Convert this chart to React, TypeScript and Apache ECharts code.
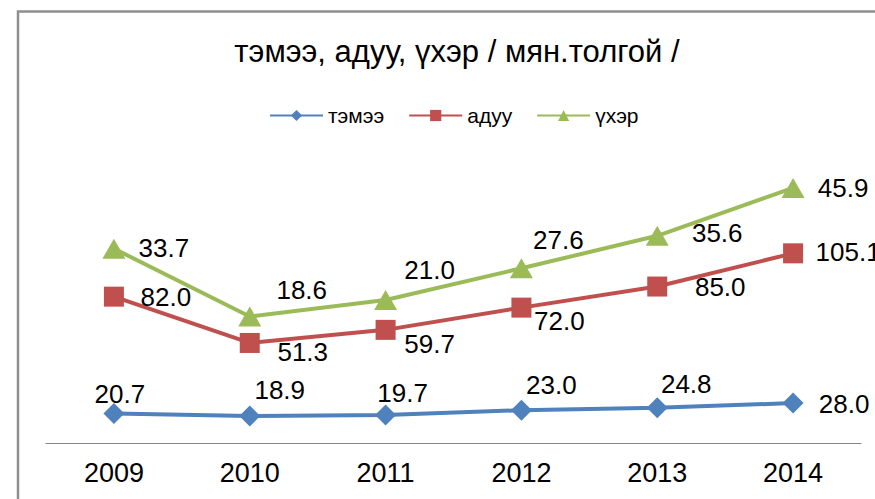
import React, { useEffect, useRef } from 'react';
import * as echarts from 'echarts';

const years = ['2009', '2010', '2011', '2012', '2013', '2014'];
const seriesNames = ['тэмээ', 'адуу', 'үхэр'];
const temee = [20.7, 18.9, 19.7, 23.0, 24.8, 28.0];
const aduu = [82.0, 51.3, 59.7, 72.0, 85.0, 105.1];
const ukher = [33.7, 18.6, 21.0, 27.6, 35.6, 45.9];
const titleText = 'тэмээ, адуу, үхэр / мян.толгой /';

// label placement (style only)
const temeeOffsets = [[6, -20], [30, -26], [17, -22], [30, -25], [29, -24], [51, 1]];
const aduuOffsets = [[52, 0], [53, 9], [44, 14], [38, 13], [63, 0], [55, -1]];
const ukherOffsets = [[50, -1], [52, -26], [44, -30], [37, -28], [60, -3], [50, 0]];

const FONT = '"Liberation Sans", Arial, sans-serif';

export default function App() {
  const ref = useRef<HTMLDivElement>(null);
  useEffect(() => {
    const chart = echarts.init(ref.current!, null, { renderer: 'svg' });
    const mk = (vals: number[], offs: number[][]) =>
      vals.map((v, i) => ({ value: v, label: { offset: offs[i] } }));
    const labelBase = {
      show: true,
      position: 'inside',
      formatter: (p: any) => Number(p.value).toFixed(1),
      fontSize: 26,
      color: '#000',
      fontFamily: FONT,
    };
    chart.setOption({
      animation: false,
      backgroundColor: '#fff',
      title: {
        text: titleText,
        left: 452,
        top: 31,
        textAlign: 'center',
        textStyle: { fontSize: 31, fontWeight: 'normal', color: '#000', fontFamily: FONT },
      },
      legend: {
        data: seriesNames,
        left: 264,
        top: 100,
        itemWidth: 53,
        itemHeight: 14,
        itemGap: 24,
        textStyle: { fontSize: 21, color: '#000', fontFamily: FONT },
      },
      graphic: [
        {
          type: 'rect',
          shape: { x: 18, y: 11.5, width: 950, height: 600 },
          style: { fill: 'none', stroke: '#8f8f8f', lineWidth: 2.5 },
          silent: true,
        },
      ],
      grid: { left: 46, right: 14, top: 158, bottom: 56 },
      xAxis: {
        type: 'category',
        data: years,
        boundaryGap: true,
        axisLine: { lineStyle: { color: '#868686', width: 1 } },
        axisTick: { show: false },
        axisLabel: { fontSize: 27, color: '#000', fontFamily: FONT, margin: 16 },
      },
      yAxis: { type: 'value', min: 0, max: 200, show: false, splitLine: { show: false } },
      series: [
        {
          name: seriesNames[0],
          type: 'line',
          stack: 'total',
          data: mk(temee, temeeOffsets),
          symbol: 'diamond',
          symbolSize: 21,
          lineStyle: { width: 4, color: '#4F81BD' },
          itemStyle: { color: '#4F81BD' },
          label: labelBase,
        },
        {
          name: seriesNames[1],
          type: 'line',
          stack: 'total',
          data: mk(aduu, aduuOffsets),
          symbol: 'rect',
          symbolSize: 20,
          lineStyle: { width: 4, color: '#C0504D' },
          itemStyle: { color: '#C0504D' },
          label: labelBase,
        },
        {
          name: seriesNames[2],
          type: 'line',
          stack: 'total',
          data: mk(ukher, ukherOffsets),
          symbol: 'triangle',
          symbolSize: [23, 20],
          lineStyle: { width: 4, color: '#9BBB59' },
          itemStyle: { color: '#9BBB59' },
          label: labelBase,
        },
      ],
    });
    return () => chart.dispose();
  }, []);
  return (
    <div
      ref={ref}
      style={{ position: 'fixed', left: 0, top: 0, width: 875, height: 499 }}
    />
  );
}
